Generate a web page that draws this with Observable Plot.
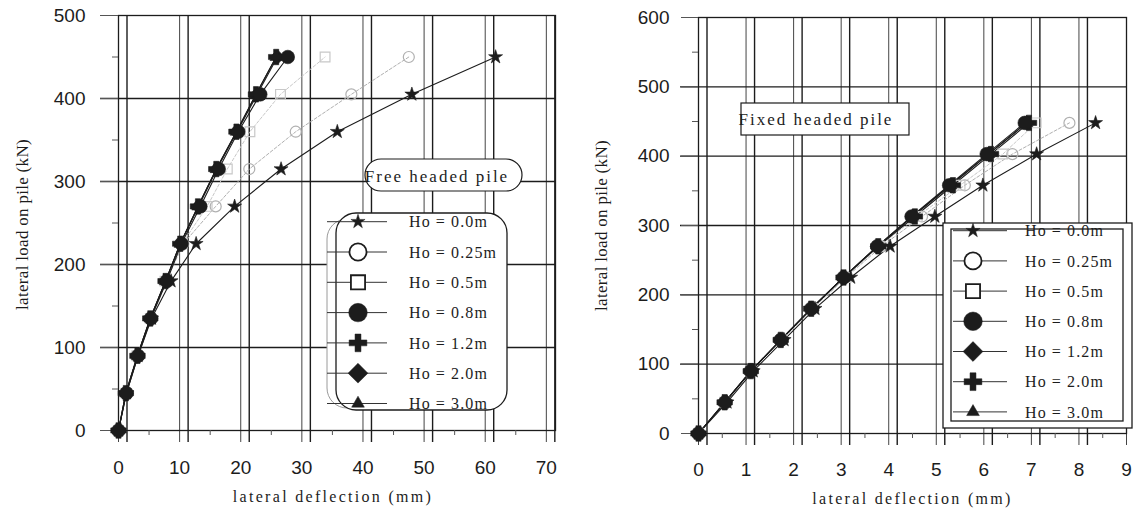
<!DOCTYPE html>
<html><head><meta charset="utf-8">
<script src="https://cdn.jsdelivr.net/npm/d3@7"></script>
<script src="https://cdn.jsdelivr.net/npm/@observablehq/plot@0.6"></script>
<style>
body{margin:0;background:#fff;}
#wrap{position:relative;width:1136px;height:516px;overflow:hidden;background:#fff;}
.panel{position:absolute;top:0;}
</style></head><body>
<div id="wrap"><div id="left" class="panel" style="left:0"></div><div id="right" class="panel" style="left:568px"></div></div>
<script>
// ---------- data ----------
const seriesLabels = ["Ho = 0.0m","Ho = 0.25m","Ho = 0.5m","Ho = 0.8m","Ho = 1.2m","Ho = 2.0m","Ho = 3.0m"];

// Free headed pile: loads (kN) and lateral deflections (mm)
const freeLoads = [0,45,90,135,180,225,270,315,360,405,450];
const freeHo00  = [0,1.3,3.2,5.4,8.6,12.7,19.0,26.6,35.8,48.0,61.7];
const freeHo025 = [0,1.3,3.1,5.2,7.8,10.6,15.9,21.4,29.0,38.1,47.5];
const freeHo05  = [0,1.2,3.0,5.2,7.6,10.4,14.5,17.8,21.5,26.5,33.8];
const freeHo08  = [0,1.3,3.2,5.3,7.9,10.3,13.4,16.4,19.6,23.2,27.7];
const freeHo12  = [0,1.2,3.1,5.2,7.7,10.1,13.0,16.0,19.3,22.5,25.8];
const freeHo20  = [0,1.2,3.1,5.2,7.7,10.1,13.1,16.1,19.4,22.7,26.0];
const freeHo30  = [0,1.2,3.1,5.2,7.7,10.1,13.0,16.0,19.3,22.5,25.8];

// Fixed headed pile
const fixedLoads = [0,45,90,135,180,225,270,313,358,403,448];
const fixedHo00  = [0,0.6,1.15,1.8,2.45,3.2,4.03,4.97,5.98,7.11,8.35];
const fixedHo025 = [0,0.55,1.1,1.75,2.4,3.1,3.85,4.7,5.6,6.6,7.8];
const fixedHo05  = [0,0.55,1.1,1.75,2.4,3.1,3.8,4.6,5.5,6.4,7.1];
const fixedHo08  = [0,0.56,1.1,1.73,2.37,3.05,3.76,4.48,5.27,6.06,6.86];
const fixedHo12  = [0,0.55,1.1,1.73,2.37,3.05,3.76,4.5,5.3,6.1,6.9];
const fixedHo20  = [0,0.55,1.1,1.73,2.37,3.05,3.78,4.55,5.35,6.15,6.95];
const fixedHo30  = [0,0.55,1.1,1.73,2.37,3.05,3.76,4.5,5.3,6.1,6.9];

// tick values
const freeXTicks = [0,10,20,30,40,50,60,70];
const freeYTicks = [0,100,200,300,400,500];
const fixedXTicks = [0,1,2,3,4,5,6,7,8,9];
const fixedYTicks = [0,100,200,300,400,500,600];

// ---------- styling ----------
const INK = "#1c1c1c";
const FAINT = ["#b0b0b0", "#c8c8c8"];
const SERIF = "'Liberation Serif','Times New Roman',serif";
const SANS = "'Liberation Sans',Arial,sans-serif";
const symTypes = {star:d3.symbolStar, circle:d3.symbolCircle, square:d3.symbolSquare, cross:d3.symbolCross, diamond2:d3.symbolDiamond2, triangle:d3.symbolTriangle};
const dataR = {star:4.4, circle:6.8, ocircle:5.5, square:5.5, cross:6.5, diamond2:6.5, triangle:4.6};

function seriesMarks(loads, defl, symbols) {
  const order = [1,2,6,5,4,0,3];
  const marks = [];
  for (const i of order) {
    const rows = loads.map((y,j)=>({x:defl[i][j], y}));
    const faint = (i===1 || i===2);
    marks.push(Plot.line(rows, {x:"x", y:"y", stroke: faint?FAINT[i-1]:INK, strokeWidth: faint?1:1.1, strokeDasharray: faint?"3,2":null}));
  }
  for (const i of order) {
    const rows = loads.map((y,j)=>({x:defl[i][j], y}));
    const faint = (i===1 || i===2);
    const sym = symbols[i];
    const r = faint ? (sym==="circle"?dataR.ocircle:dataR.square) : dataR[sym];
    marks.push(Plot.dot(rows, {x:"x", y:"y", symbol: sym, r,
      fill: faint?"none":INK, stroke: faint?FAINT[i-1]:INK, strokeWidth: faint?1.2:0.6}));
  }
  return marks;
}

function makePanel(cfg) {
  const xDouble = cfg.xTicks.filter(t => t < cfg.xDomain[1] - 0.5);
  const plot = Plot.plot({
    width: 568, height: 516,
    marginLeft: cfg.mL, marginRight: cfg.mR, marginTop: cfg.mT, marginBottom: cfg.mB,
    x: {domain: cfg.xDomain, label: null},
    y: {domain: cfg.yDomain, label: null},
    style: {fontFamily: SANS, fontSize: "19px", background: "transparent", color: INK, overflow: "visible"},
    marks: [
      Plot.ruleX(cfg.xTicks, {stroke: "#444", strokeWidth: 1, insetBottom: -12}),
      Plot.ruleX(xDouble, {stroke: INK, strokeWidth: 1.4, dx: 8.5, insetBottom: -12}),
      Plot.ruleY(cfg.yGrid, {stroke: INK, strokeWidth: 1.3, insetLeft: -18}),
      Plot.frame({stroke: INK, strokeWidth: 1.3}),
      Plot.axisY({ticks: cfg.yMinor, tickSize: 6, tickFormat: () => "", stroke: "#555", label: null}),
      Plot.axisX({ticks: cfg.xMinor, tickSize: 5, tickFormat: () => "", stroke: "#555", label: null}),
      Plot.axisY({ticks: cfg.yTicks, tickSize: cfg.yTickSize, tickPadding: cfg.yPad, stroke: "#555", label: null}),
      Plot.axisX({ticks: cfg.xTicks, tickSize: 0, tickPadding: cfg.xPad, label: null}),
      ...seriesMarks(cfg.loads, cfg.defl, cfg.symbols),
      Plot.text([cfg.xLabel], {text: d=>d, frameAnchor: "bottom", textAnchor: "middle", dx: cfg.xLabelDx, dy: cfg.xLabelDy, fontFamily: SERIF, fontSize: 16, fill: INK}),
      Plot.text([cfg.yLabel], {text: d=>d, frameAnchor: "left", textAnchor: "middle", dx: cfg.yLabelDx, dy: cfg.yLabelDy, rotate: -90, fontFamily: SERIF, fontSize: 17, fill: INK})
    ]
  });
  const sel = d3.select(plot).selectAll("text");
  sel.filter(function(){ return this.textContent === cfg.xLabel; }).style("letter-spacing","2.3px");
  sel.filter(function(){ return this.textContent === cfg.yLabel; }).style("letter-spacing","0.3px");
  return plot;
}

function drawLegend(svg, L) {
  const g = d3.select(svg).append("g").attr("text-anchor","start");
  if (L.shadow) g.append("rect").attr("x",L.shadow[0]).attr("y",L.shadow[1]).attr("width",L.shadow[2]).attr("height",L.shadow[3]).attr("rx",L.rx).attr("fill","#fff").attr("stroke","#9a9a9a").attr("stroke-width",1);
  for (const b of L.boxes) g.append("rect").attr("x",b[0]).attr("y",b[1]).attr("width",b[2]).attr("height",b[3]).attr("rx",L.rx).attr("fill","#fff").attr("stroke",INK).attr("stroke-width",1.3);
  const sizes = {star:62, circle:270, ocircle:230, square:200, cross:175, diamond2:250, triangle:70};
  L.symbols.forEach((s,i) => {
    const y = L.row0 + i*L.rowStep;
    g.append("line").attr("x1",L.lineX[0]).attr("x2",L.lineX[1]).attr("y1",y).attr("y2",y).attr("stroke","#333").attr("stroke-width",1);
    const open = (i===1 || i===2);
    const size = open ? (s==="circle"?sizes.ocircle:sizes.square) : sizes[s];
    g.append("path").attr("transform",`translate(${L.markX},${y})`).attr("d", d3.symbol(symTypes[s], size)())
      .attr("fill", open?"#fff":INK).attr("stroke", INK).attr("stroke-width", open?1.8:0.5);
    g.append("text").attr("x",L.textX).attr("y",y).attr("dy","0.36em").attr("text-anchor","start").attr("font-family",SERIF).attr("font-size",16)
      .style("letter-spacing","1.1px").attr("fill",INK).text(seriesLabels[i]);
  });
  const t = L.title;
  g.append("rect").attr("x",t.box[0]).attr("y",t.box[1]).attr("width",t.box[2]).attr("height",t.box[3]).attr("rx",t.rx).attr("fill","#fff").attr("stroke",INK).attr("stroke-width",1.2);
  g.append("text").attr("x",t.x).attr("y",t.y).attr("dy","0.35em").attr("text-anchor","middle").attr("font-family",SERIF).attr("font-size",17)
    .style("letter-spacing","2px").attr("fill",INK).text(t.text);
}

const left = makePanel({
  mL:118, mR:13, mT:15, mB:86,
  xDomain:[0,71.5], yDomain:[0,500],
  xTicks:freeXTicks, yTicks:freeYTicks, yGrid:[100,200,300,400],
  xMinor:d3.range(5,71,10), yMinor:d3.range(50,500,100),
  yTickSize:18, yPad:15, xPad:30,
  loads:freeLoads, defl:[freeHo00,freeHo025,freeHo05,freeHo08,freeHo12,freeHo20,freeHo30],
  symbols:["star","circle","square","circle","cross","diamond2","triangle"],
  xLabel:"lateral deflection (mm)", xLabelDx:-4, xLabelDy:71,
  yLabel:"lateral load on pile (kN)", yLabelDx:-96, yLabelDy:1.5
});
document.getElementById("left").appendChild(left);
drawLegend(left, {
  shadow:[327,219,169,189], rx:20,
  boxes:[[336,213,171,197]],
  symbols:["star","circle","square","circle","cross","diamond2","triangle"],
  row0:221.7, rowStep:30.3, lineX:[327,387], markX:358, textX:409,
  title:{box:[365,159,157,32], rx:16, x:437, y:176, text:"Free headed pile"}
});

const right = makePanel({
  mL:130, mR:10, mT:17, mB:83,
  xDomain:[0,9], yDomain:[0,600],
  xTicks:fixedXTicks, yTicks:fixedYTicks, yGrid:[100,200,300,400,500],
  xMinor:d3.range(0.5,9,1), yMinor:d3.range(50,600,100),
  yTickSize:17, yPad:12, xPad:29,
  loads:fixedLoads, defl:[fixedHo00,fixedHo025,fixedHo05,fixedHo08,fixedHo12,fixedHo20,fixedHo30],
  symbols:["star","circle","square","circle","diamond2","cross","triangle"],
  xLabel:"lateral deflection (mm)", xLabelDx:0, xLabelDy:70,
  yLabel:"lateral load on pile (kN)", yLabelDx:-97, yLabelDy:0
});
document.getElementById("right").appendChild(right);
drawLegend(right, {
  shadow:null, rx:0,
  boxes:[[375,223,189,205],[383,229,172,192]],
  symbols:["star","circle","square","circle","diamond2","cross","triangle"],
  row0:230.7, rowStep:30.2, lineX:[385,439], markX:405, textX:457,
  title:{box:[173,103,168,32], rx:0, x:248, y:119, text:"Fixed headed pile"}
});
</script></body></html>
